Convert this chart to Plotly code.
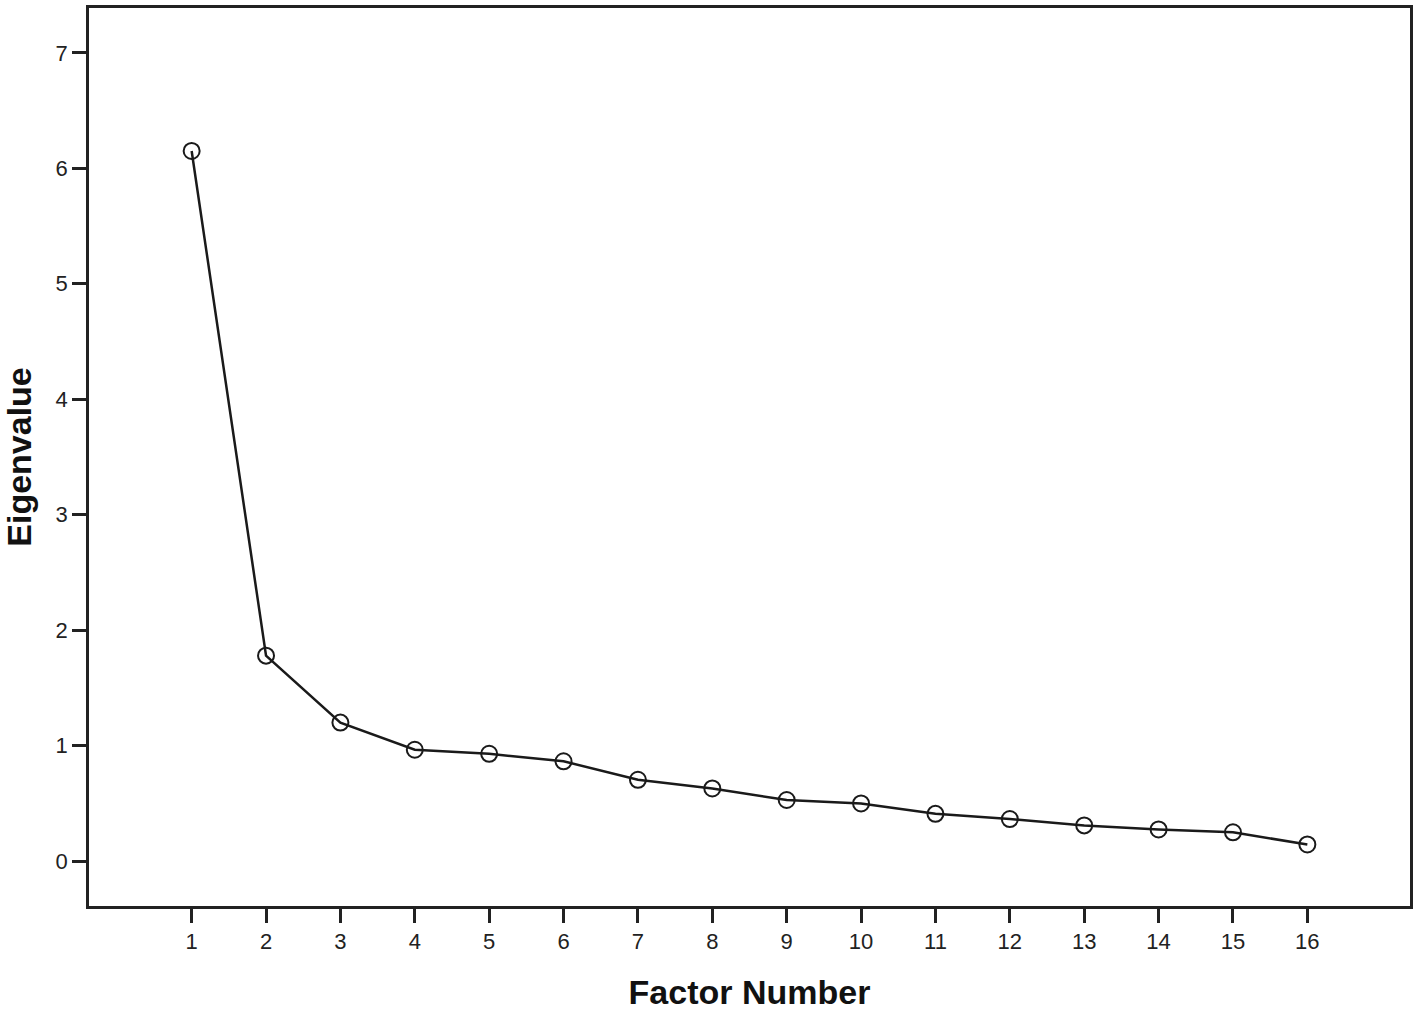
import plotly.graph_objects as go

factor_number = list(range(1, 17))
eigenvalues = [6.15, 1.78, 1.20, 0.965, 0.93, 0.865, 0.705, 0.63, 0.53, 0.50,
               0.41, 0.365, 0.31, 0.275, 0.25, 0.145]
x_tick_labels = [str(i) for i in factor_number]
y_ticks = [0, 1, 2, 3, 4, 5, 6, 7]

fig = go.Figure()
fig.add_trace(go.Scatter(
    x=factor_number, y=eigenvalues, mode="lines+markers",
    line=dict(color="#1a1a1a", width=2.5),
    marker=dict(symbol="circle-open", size=16, color="#1a1a1a", line=dict(width=2)),
    showlegend=False, hoverinfo="x+y",
))

font = "Liberation Sans, Arial, sans-serif"
fig.update_layout(
    width=1418, height=1011,
    margin=dict(l=89, r=5, t=5, b=105),
    paper_bgcolor="white", plot_bgcolor="white",
    font=dict(family=font, color="#222222"),
)
fig.update_xaxes(
    range=[-0.38, 17.38], tickvals=factor_number, ticktext=x_tick_labels,
    showgrid=False, zeroline=False, showline=True, linecolor="#222222", linewidth=2.5,
    mirror=True, ticks="outside", ticklen=14, tickwidth=2.5, tickcolor="#222222",
    tickfont=dict(size=22, family=font, color="#222222"),
    title=dict(text="<b>Factor Number</b>", font=dict(size=34, family=font, color="#111111"), standoff=28),
)
fig.update_yaxes(
    range=[-0.388, 7.388], tickvals=y_ticks,
    showgrid=False, zeroline=False, showline=True, linecolor="#222222", linewidth=2.5,
    mirror=True, ticks="outside", ticklen=14, tickwidth=2.5, tickcolor="#222222",
    tickfont=dict(size=22, family=font, color="#222222"),
    title=dict(text="<b>Eigenvalue</b>", font=dict(size=34, family=font, color="#111111"), standoff=20),
)

fig.write_html("out.html", config={"displayModeBar": False},
               post_script="document.body.style.margin='0';")
